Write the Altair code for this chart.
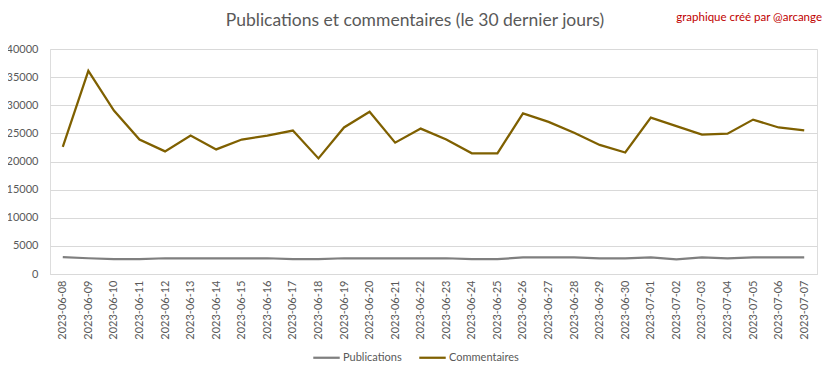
import altair as alt
import pandas as pd

dates = [
    "2023-06-08", "2023-06-09", "2023-06-10", "2023-06-11", "2023-06-12",
    "2023-06-13", "2023-06-14", "2023-06-15", "2023-06-16", "2023-06-17",
    "2023-06-18", "2023-06-19", "2023-06-20", "2023-06-21", "2023-06-22",
    "2023-06-23", "2023-06-24", "2023-06-25", "2023-06-26", "2023-06-27",
    "2023-06-28", "2023-06-29", "2023-06-30", "2023-07-01", "2023-07-02",
    "2023-07-03", "2023-07-04", "2023-07-05", "2023-07-06", "2023-07-07",
]
publications = [
    3000, 2800, 2650, 2650, 2800, 2800, 2800, 2800, 2800, 2650,
    2650, 2800, 2800, 2800, 2800, 2800, 2650, 2650, 2950, 2950,
    2950, 2800, 2800, 2950, 2600, 2950, 2800, 2950, 2950, 2950,
]
commentaires = [
    22600, 36100, 29050, 23900, 21800, 24600, 22150, 23900, 24600, 25500,
    20550, 26050, 28850, 23350, 25850, 23900, 21450, 21450, 28550, 27050,
    25100, 22950, 21600, 27800, 26300, 24800, 24950, 27450, 26050, 25550,
]
series = ["Publications", "Commentaires"]
colors = ["#7F7F7F", "#7F6000"]
title_text = "Publications et commentaires (le 30 dernier jours)"
credit_text = "graphique créé par @arcange"

df = pd.concat([
    pd.DataFrame({"date": dates, "serie": series[0], "valeur": publications}),
    pd.DataFrame({"date": dates, "serie": series[1], "valeur": commentaires}),
])

FONT = "Lato"

lines = alt.Chart(df).mark_line(strokeWidth=2.25).encode(
    x=alt.X("date:N", sort=dates, title=None,
            scale=alt.Scale(paddingInner=0, paddingOuter=0.5),
            axis=alt.Axis(labelAngle=270, labelFontSize=11, labelColor="#595959",
                          labelFont=FONT, ticks=False, domainColor="#D9D9D9",
                          labelPadding=6, labelBaseline="middle", labelAlign="right")),
    y=alt.Y("valeur:Q", title=None,
            scale=alt.Scale(domain=[0, 40000], nice=False),
            axis=alt.Axis(values=list(range(0, 40001, 5000)), format="d",
                          labelFontSize=11, labelColor="#595959", labelFont=FONT,
                          ticks=False, domain=False, gridColor="#D9D9D9",
                          labelPadding=12)),
    color=alt.Color("serie:N", sort=series,
                    scale=alt.Scale(domain=series, range=colors),
                    legend=alt.Legend(title=None, orient="none", direction="horizontal",
                                      legendX=262, legendY=294, symbolType="stroke",
                                      symbolSize=700, symbolStrokeWidth=2.25,
                                      labelFontSize=11, labelColor="#595959",
                                      labelFont=FONT, columnPadding=12,
                                      labelOffset=2)),
    detail="serie:N",
)

title = alt.Chart(pd.DataFrame({"t": [title_text]})).mark_text(
    align="center", baseline="middle", fontSize=17.5, color="#595959", font=FONT
).encode(x=alt.value(365), y=alt.value(-28), text="t:N")

credit = alt.Chart(pd.DataFrame({"t": [credit_text]})).mark_text(
    align="right", baseline="middle", fontSize=11.5, color="#C00000", font=FONT
).encode(x=alt.value(772), y=alt.value(-31), text="t:N")

chart = alt.layer(lines, title, credit).properties(
    width=767, height=225,
    autosize=alt.AutoSizeParams(type="none"),
    padding={"left": 42, "top": 41, "right": 7, "bottom": 96},
).configure_view(stroke=None).configure(background="white")

chart.save("out.html", embed_options={"renderer": "svg", "actions": False})
